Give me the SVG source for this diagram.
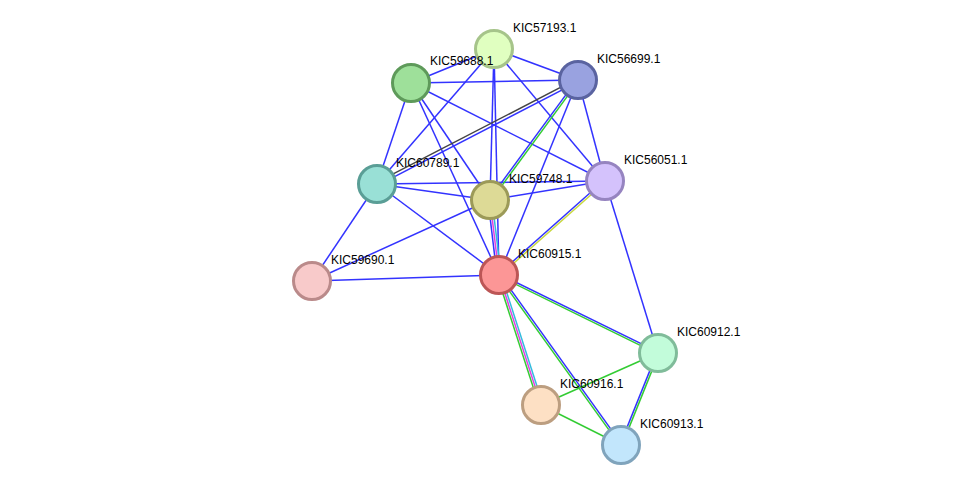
<svg xmlns="http://www.w3.org/2000/svg" width="976" height="491" viewBox="0 0 976 491">
<style>
line{stroke-width:1.5}
.b{stroke:#3333ff}.g{stroke:#33cc33}.k{stroke:#444}.m{stroke:#e040e0}.c{stroke:#33bbdd}.y{stroke:#c8d840}
circle{stroke-width:3}
text{font-family:"Liberation Sans",Arial,sans-serif;font-size:12px;fill:#000}
</style>
<rect width="976" height="491" fill="#fff"/>
<g id="edges">
<line class="b" x1="494" y1="49" x2="411" y2="83"/>
<line class="b" x1="494" y1="49" x2="578" y2="80"/>
<line class="b" x1="494" y1="49" x2="377" y2="184"/>
<line class="b" x1="494" y1="49" x2="490" y2="200"/>
<line class="b" x1="494" y1="49" x2="499" y2="275"/>
<line class="b" x1="494" y1="49" x2="605" y2="181"/>
<line class="b" x1="411" y1="83" x2="578" y2="80"/>
<line class="b" x1="411" y1="83" x2="377" y2="184"/>
<line class="b" x1="411" y1="83" x2="490" y2="200"/>
<line class="b" x1="411" y1="83" x2="499" y2="275"/>
<line class="b" x1="411" y1="83" x2="605" y2="181"/>
<line class="b" x1="578" y1="80" x2="499" y2="275"/>
<line class="b" x1="578" y1="80" x2="605" y2="181"/>
<line class="b" x1="377" y1="184" x2="490" y2="200"/>
<line class="b" x1="377" y1="184" x2="605" y2="181"/>
<line class="b" x1="377" y1="184" x2="499" y2="275"/>
<line class="b" x1="377" y1="184" x2="312" y2="281"/>
<line class="b" x1="490" y1="200" x2="605" y2="181"/>
<line class="b" x1="490" y1="200" x2="312" y2="281"/>
<line class="b" x1="605" y1="181" x2="658" y2="353"/>
<line class="b" x1="312" y1="281" x2="499" y2="275"/>
<line class="b" x1="578.7" y1="81.3" x2="377.7" y2="185.3"/>
<line class="k" x1="577.3" y1="78.7" x2="376.3" y2="182.7"/>
<line class="g" x1="578.8" y1="80.6" x2="490.8" y2="200.6"/>
<line class="b" x1="577.2" y1="79.4" x2="489.2" y2="199.4"/>
<line class="b" x1="488" y1="200.2" x2="497" y2="275.2"/>
<line class="m" x1="490" y1="200" x2="499" y2="275"/>
<line class="c" x1="492" y1="199.8" x2="501" y2="274.8"/>
<line class="b" x1="604.3" y1="180.3" x2="498.3" y2="274.3"/>
<line class="y" x1="605.7" y1="181.7" x2="499.7" y2="275.7"/>
<line class="b" x1="499.4" y1="274.1" x2="658.4" y2="352.1"/>
<line class="g" x1="498.6" y1="275.9" x2="657.6" y2="353.9"/>
<line class="g" x1="497.1" y1="275.6" x2="539.1" y2="405.6"/>
<line class="m" x1="499" y1="275" x2="541" y2="405"/>
<line class="c" x1="500.9" y1="274.4" x2="542.9" y2="404.4"/>
<line class="g" x1="498.2" y1="275.6" x2="620.2" y2="445.6"/>
<line class="b" x1="499.8" y1="274.4" x2="621.8" y2="444.4"/>
<line class="b" x1="657.1" y1="352.6" x2="620.1" y2="444.6"/>
<line class="g" x1="658.9" y1="353.4" x2="621.9" y2="445.4"/>
<line class="g" x1="658" y1="353" x2="541" y2="405"/>
<line class="g" x1="541" y1="405" x2="621" y2="445"/>
</g>
<g id="KIC57193.1"><circle cx="494" cy="49" r="18.5" fill="#e0ffc0" stroke="#a6c48a"/><text x="513" y="32">KIC57193.1</text></g>
<g id="KIC59688.1"><circle cx="411" cy="83" r="18.5" fill="#9ee09a" stroke="#5e9a5a"/><text x="430" y="65">KIC59688.1</text></g>
<g id="KIC56699.1"><circle cx="578" cy="80" r="18.5" fill="#99a2e0" stroke="#5a63a0"/><text x="597" y="63">KIC56699.1</text></g>
<g id="KIC60789.1"><circle cx="377" cy="184" r="18.5" fill="#99e0d6" stroke="#5a9e96"/><text x="396" y="167">KIC60789.1</text></g>
<g id="KIC59748.1"><circle cx="490" cy="200" r="18.5" fill="#ddda96" stroke="#9c9a58"/><text x="509" y="183">KIC59748.1</text></g>
<g id="KIC56051.1"><circle cx="605" cy="181" r="18.5" fill="#d4c2fc" stroke="#9684c0"/><text x="624" y="164">KIC56051.1</text></g>
<g id="KIC59690.1"><circle cx="312" cy="281" r="18.5" fill="#f8caca" stroke="#ba8a8a"/><text x="331" y="264">KIC59690.1</text></g>
<g id="KIC60915.1"><circle cx="499" cy="275" r="18.5" fill="#fc9696" stroke="#bc5656"/><text x="518" y="258">KIC60915.1</text></g>
<g id="KIC60912.1"><circle cx="658" cy="353" r="18.5" fill="#c2fcda" stroke="#80bc9a"/><text x="677" y="336">KIC60912.1</text></g>
<g id="KIC60916.1"><circle cx="541" cy="405" r="18.5" fill="#fde0c4" stroke="#bc9e80"/><text x="560" y="388">KIC60916.1</text></g>
<g id="KIC60913.1"><circle cx="621" cy="445" r="18.5" fill="#c2e6fc" stroke="#80a4bc"/><text x="640" y="428">KIC60913.1</text></g>
</svg>
